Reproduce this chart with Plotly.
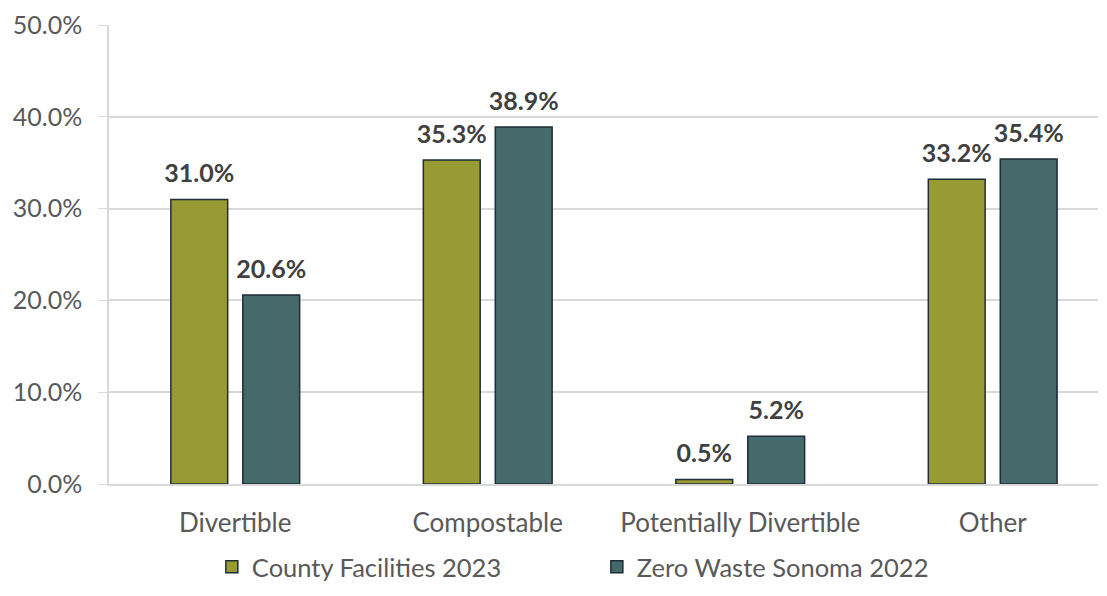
import plotly.graph_objects as go

# Categories and share of waste by series
categories = ["Divertible", "Compostable", "Potentially Divertible", "Other"]
county_2023 = [31.0, 35.3, 0.5, 33.2]
zws_2022 = [20.6, 38.9, 5.2, 35.4]
series_names = ["County Facilities 2023", "Zero Waste Sonoma 2022"]
series_colors = ["#989A34", "#46696A"]
y_ticks = [0, 10, 20, 30, 40, 50]

font_family = "Lato, 'Open Sans', sans-serif"
outline = dict(color="#1F2D3A", width=1.5)

fig = go.Figure()
for name, vals, col in zip(series_names, [county_2023, zws_2022], series_colors):
    fig.add_trace(go.Bar(x=categories, y=vals, name=name,
                         marker=dict(color=col, line=outline)))

# value labels: invisible markers at the bar tops, grouped like the bars,
# so the text sits a little above each bar
for name, vals in zip(series_names, [county_2023, zws_2022]):
    fig.add_trace(go.Scatter(x=categories, y=vals, mode="markers+text",
                             marker=dict(size=16, opacity=0),
                             text=[f"<b>{v:.1f}%</b>" for v in vals],
                             textposition="top center", cliponaxis=False,
                             textfont=dict(size=25, color="#404040"),
                             showlegend=False, hoverinfo="skip"))

fig.update_layout(
    width=1091, height=580,
    margin=dict(l=101, r=1, t=17, b=104),
    paper_bgcolor="white", plot_bgcolor="white",
    barmode="group", bargap=0.43, bargroupgap=0.21,
    scattermode="group", scattergap=0.43,
    font=dict(family=font_family, size=26, color="#595959"),
    legend=dict(orientation="h", x=0.104, xanchor="left",
                yref="container", y=0.036, yanchor="middle",
                font=dict(size=25.5, color="#595959"), itemwidth=30, entrywidth=340),
)
fig.update_yaxes(range=[0, 50.01], tickmode="array", tickvals=y_ticks,
                 ticktext=[f"{t:.1f}%" for t in y_ticks], ticklabeloverflow="allow",
                 showgrid=True, gridcolor="#D9D9D9", gridwidth=1.5,
                 showline=True, linecolor="#D9D9D9", linewidth=1.5,
                 ticks="outside", ticklen=9, tickcolor="#D9D9D9",
                 ticklabelstandoff=11,
                 zeroline=False, automargin=False,
                 tickfont=dict(size=25, color="#595959"))
# the chart runs past the right edge of the frame, so the last category is cut
fig.update_xaxes(range=[-0.5, 3.417], showline=True, linecolor="#D9D9D9", linewidth=1.5,
                 automargin=False, ticklabelstandoff=15,
                 tickfont=dict(size=26, color="#595959"))

fig.write_html("out.html")
